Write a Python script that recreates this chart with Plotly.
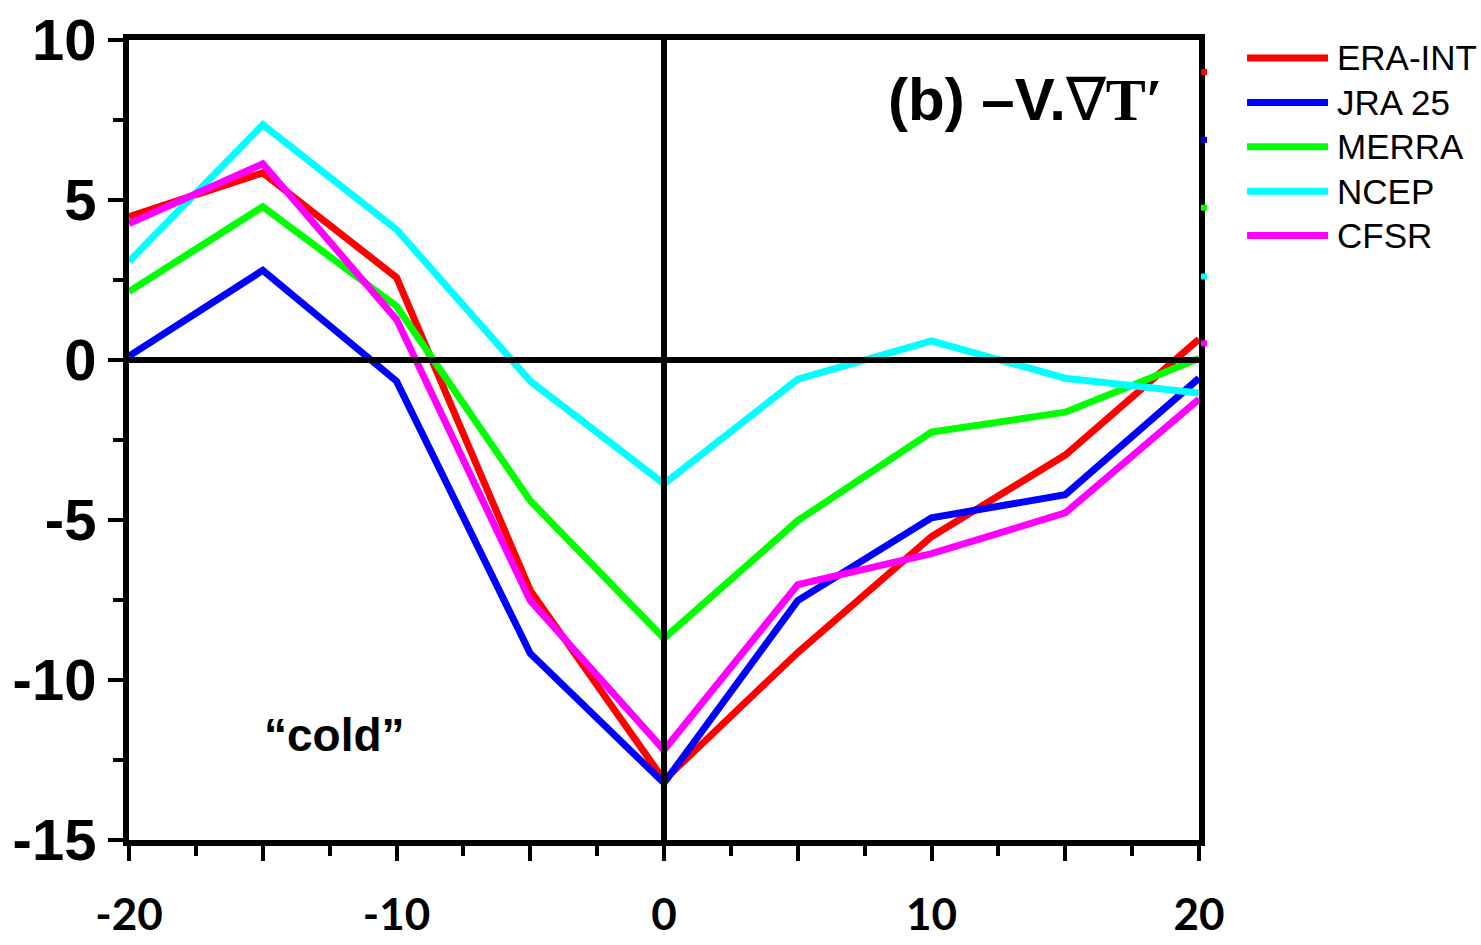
import plotly.graph_objects as go

# Composite-day axis (days relative to event) and the five reanalysis series
days = [-20, -15, -10, -5, 0, 5, 10, 15, 20]
era_int = [4.48, 5.85, 2.58, -7.2, -13.13, -9.14, -5.52, -2.97, 0.65]
jra25 = [0.12, 2.8, -0.66, -9.17, -13.22, -7.52, -4.93, -4.21, -0.57]
merra = [2.14, 4.79, 1.68, -4.4, -8.7, -5.02, -2.25, -1.63, 0.05]
ncep = [3.08, 7.35, 4.08, -0.66, -3.87, -0.6, 0.6, -0.57, -1.03]
cfsr = [4.26, 6.13, 1.27, -7.52, -12.19, -7.02, -6.05, -4.78, -1.22]

names = ["ERA-INT", "JRA 25", "MERRA", "NCEP", "CFSR"]
colors = ["#FF0000", "#0000FF", "#00FF00", "#00FFFF", "#FF00FF"]
series = [era_int, jra25, merra, ncep, cfsr]

x_ticks = [-20, -15, -10, -5, 0, 5, 10, 15, 20]
x_ticktext = ["-20", "", "-10", "", "0", "", "10", "", "20"]
y_ticks = [-15, -10, -5, 0, 5, 10]
y_ticktext = ["-15", "-10", "-5", "0", "5", "10"]

# small coloured stubs on the right frame
stub_levels = [9.0, 6.88, 4.76, 2.61, 0.52]

fig = go.Figure()
for name, col, vals in zip(names, colors, series):
    fig.add_trace(go.Scatter(x=days, y=vals, mode="lines", name=name,
                             line=dict(color=col, width=7), showlegend=False))

shapes = [
    dict(type="line", xref="x", yref="y", x0=-20, x1=20, y0=0, y1=0,
         line=dict(color="black", width=6), layer="above"),
    dict(type="line", xref="x", yref="y", x0=0, x1=0, y0=-15, y1=10,
         line=dict(color="black", width=6), layer="above"),
]
for col, lvl in zip(colors, stub_levels):
    shapes.append(dict(type="line", xref="paper", yref="y", xsizemode="pixel",
                       xanchor=1, x0=2, x1=8, y0=lvl, y1=lvl,
                       line=dict(color=col, width=6), layer="above"))

# legend drawn beside the frame
annotations = []
leg_top, leg_step = 0.9775, 0.0555
for i, (name, col) in enumerate(zip(names, colors)):
    yy = leg_top - i * leg_step
    shapes.append(dict(type="line", xref="paper", yref="paper", x0=1.0449, x1=1.1206,
                       y0=yy, y1=yy, line=dict(color=col, width=7)))
    annotations.append(dict(xref="paper", yref="paper", x=1.127, y=yy, text=name,
                            showarrow=False, xanchor="left", yanchor="middle",
                            font=dict(family="Liberation Sans, Arial", size=35, color="black")))

annotations.append(dict(
    xref="paper", yref="paper", x=0.968, y=0.925, xanchor="right", yanchor="middle",
    showarrow=False,
    text="<b>(b) \u2013V.</b><span style='font-family:Liberation Serif, Times New Roman'>\u2207<b>T\u2032</b></span>",
    font=dict(family="Liberation Sans, Arial", size=60, color="black")))
annotations.append(dict(
    xref="paper", yref="paper", x=0.1925, y=0.131, xanchor="center", yanchor="middle",
    showarrow=False, text="<b>\u201ccold\u201d</b>",
    font=dict(family="Liberation Sans, Arial", size=46, color="black")))

fig.update_layout(
    width=1481, height=945,
    margin=dict(l=129, r=282, t=40, b=105),
    paper_bgcolor="white", plot_bgcolor="white",
    shapes=shapes, annotations=annotations,
    xaxis=dict(range=[-20, 20], tickmode="array", tickvals=x_ticks, ticktext=x_ticktext,
               ticks="outside", ticklen=15, tickwidth=4, tickcolor="black",
               minor=dict(dtick=2.5, tick0=-20, ticks="outside", ticklen=10,
                          tickwidth=4, tickcolor="black"),
               showline=True, linewidth=6, linecolor="black", mirror=True,
               showgrid=False, zeroline=False, layer="above traces",
               automargin=False, ticklabelstandoff=16,
               tickfont=dict(family="Lato", size=44, color="black", weight="bold")),
    yaxis=dict(range=[-15, 10], tickmode="array", tickvals=y_ticks, ticktext=y_ticktext,
               ticks="outside", ticklen=15, tickwidth=4, tickcolor="black",
               minor=dict(dtick=2.5, tick0=-15, ticks="outside", ticklen=10,
                          tickwidth=4, tickcolor="black"),
               showline=True, linewidth=6, linecolor="black", mirror=True,
               showgrid=False, zeroline=False, layer="above traces",
               automargin=False,
               tickfont=dict(family="Liberation Sans, Arial", size=58, color="black",
                             weight="bold")),
)

fig.write_html("out.html")
